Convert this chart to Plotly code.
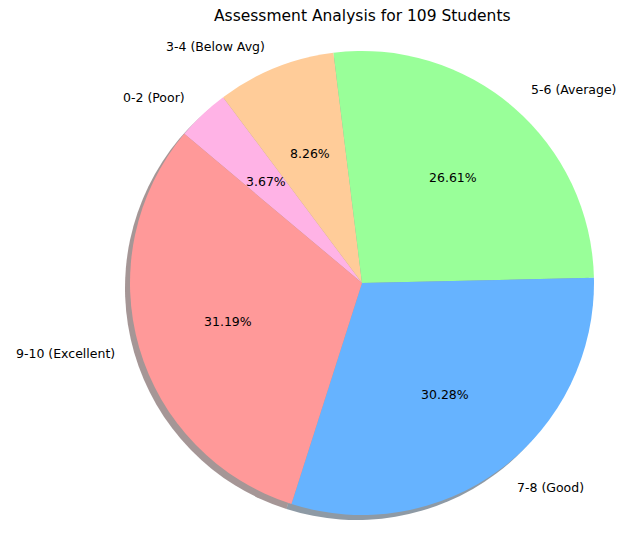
import math
import plotly.graph_objects as go

# ---- data (clockwise order starting at upper-left) ----
labels = ["0-2 (Poor)", "3-4 (Below Avg)", "5-6 (Average)", "7-8 (Good)", "9-10 (Excellent)"]
counts = [4, 9, 29, 33, 34]
colors = ["#ffb3e6", "#ffcc99", "#99ff99", "#66b3ff", "#ff9999"]
title_text = "Assessment Analysis for 109 Students"

# ---- layout constants ----
W, H = 618, 533
CX, CY, R = 362, 283, 232          # pie centre / radius in pixels
SHADOW_DX, SHADOW_DY = -5, 5       # shadow offset (px, down positive)
ROTATION = -50                     # degrees clockwise from 12 o'clock where first slice starts
FONT = "DejaVu Sans"


def dom(cx, cy, r):
    return dict(x=[(cx - r) / W, (cx + r) / W], y=[1 - (cy + r) / H, 1 - (cy - r) / H])


def shadow_col(hexc):
    h = hexc.lstrip("#")
    r, g, b = (int(h[i:i + 2], 16) for i in (0, 2, 4))
    return f"rgba({int(r*0.3)},{int(g*0.3)},{int(b*0.3)},0.5)"


fig = go.Figure()

# shadow
fig.add_trace(go.Pie(
    labels=labels, values=counts, sort=False, direction="clockwise",
    rotation=ROTATION,
    marker=dict(colors=[shadow_col(c) for c in colors], line=dict(width=0)),
    textinfo="none", hoverinfo="skip", showlegend=False,
    domain=dom(CX + SHADOW_DX, CY + SHADOW_DY, R),
))

# main pie
fig.add_trace(go.Pie(
    labels=labels, values=counts, sort=False, direction="clockwise",
    rotation=ROTATION,
    marker=dict(colors=colors, line=dict(width=0)),
    textinfo="none", showlegend=False,
    domain=dom(CX, CY, R),
))

# labels and percentages placed like matplotlib (labeldistance 1.1, pctdistance 0.6)
total = sum(counts)
annotations = []
cum = 0
for lab, v in zip(labels, counts):
    mid = math.radians(ROTATION + 360 * (cum + v / 2) / total)
    cum += v
    dx, dy = math.sin(mid), math.cos(mid)
    lx = CX + 1.1 * R * dx
    ly = CY - 1.1 * R * dy
    annotations.append(dict(
        x=lx / W, y=1 - ly / H, xref="paper", yref="paper", text=lab, showarrow=False,
        xanchor="left" if dx > 0 else "right", yanchor="middle",
        font=dict(family=FONT, size=12.5, color="black"),
    ))
    px = CX + 0.6 * R * dx
    py = CY - 0.6 * R * dy
    annotations.append(dict(
        x=px / W, y=1 - py / H, xref="paper", yref="paper",
        text=f"{100 * v / total:.2f}%", showarrow=False,
        xanchor="center", yanchor="middle",
        font=dict(family=FONT, size=12.5, color="black"),
    ))

annotations.append(dict(
    x=CX / W, y=1 - 16 / H, xref="paper", yref="paper", text=title_text, showarrow=False,
    xanchor="center", yanchor="middle",
    font=dict(family=FONT, size=15.5, color="black"),
))

fig.update_layout(
    width=W, height=H, margin=dict(l=0, r=0, t=0, b=0),
    paper_bgcolor="white", plot_bgcolor="white",
    annotations=annotations, showlegend=False,
)

fig.write_html("out.html")
